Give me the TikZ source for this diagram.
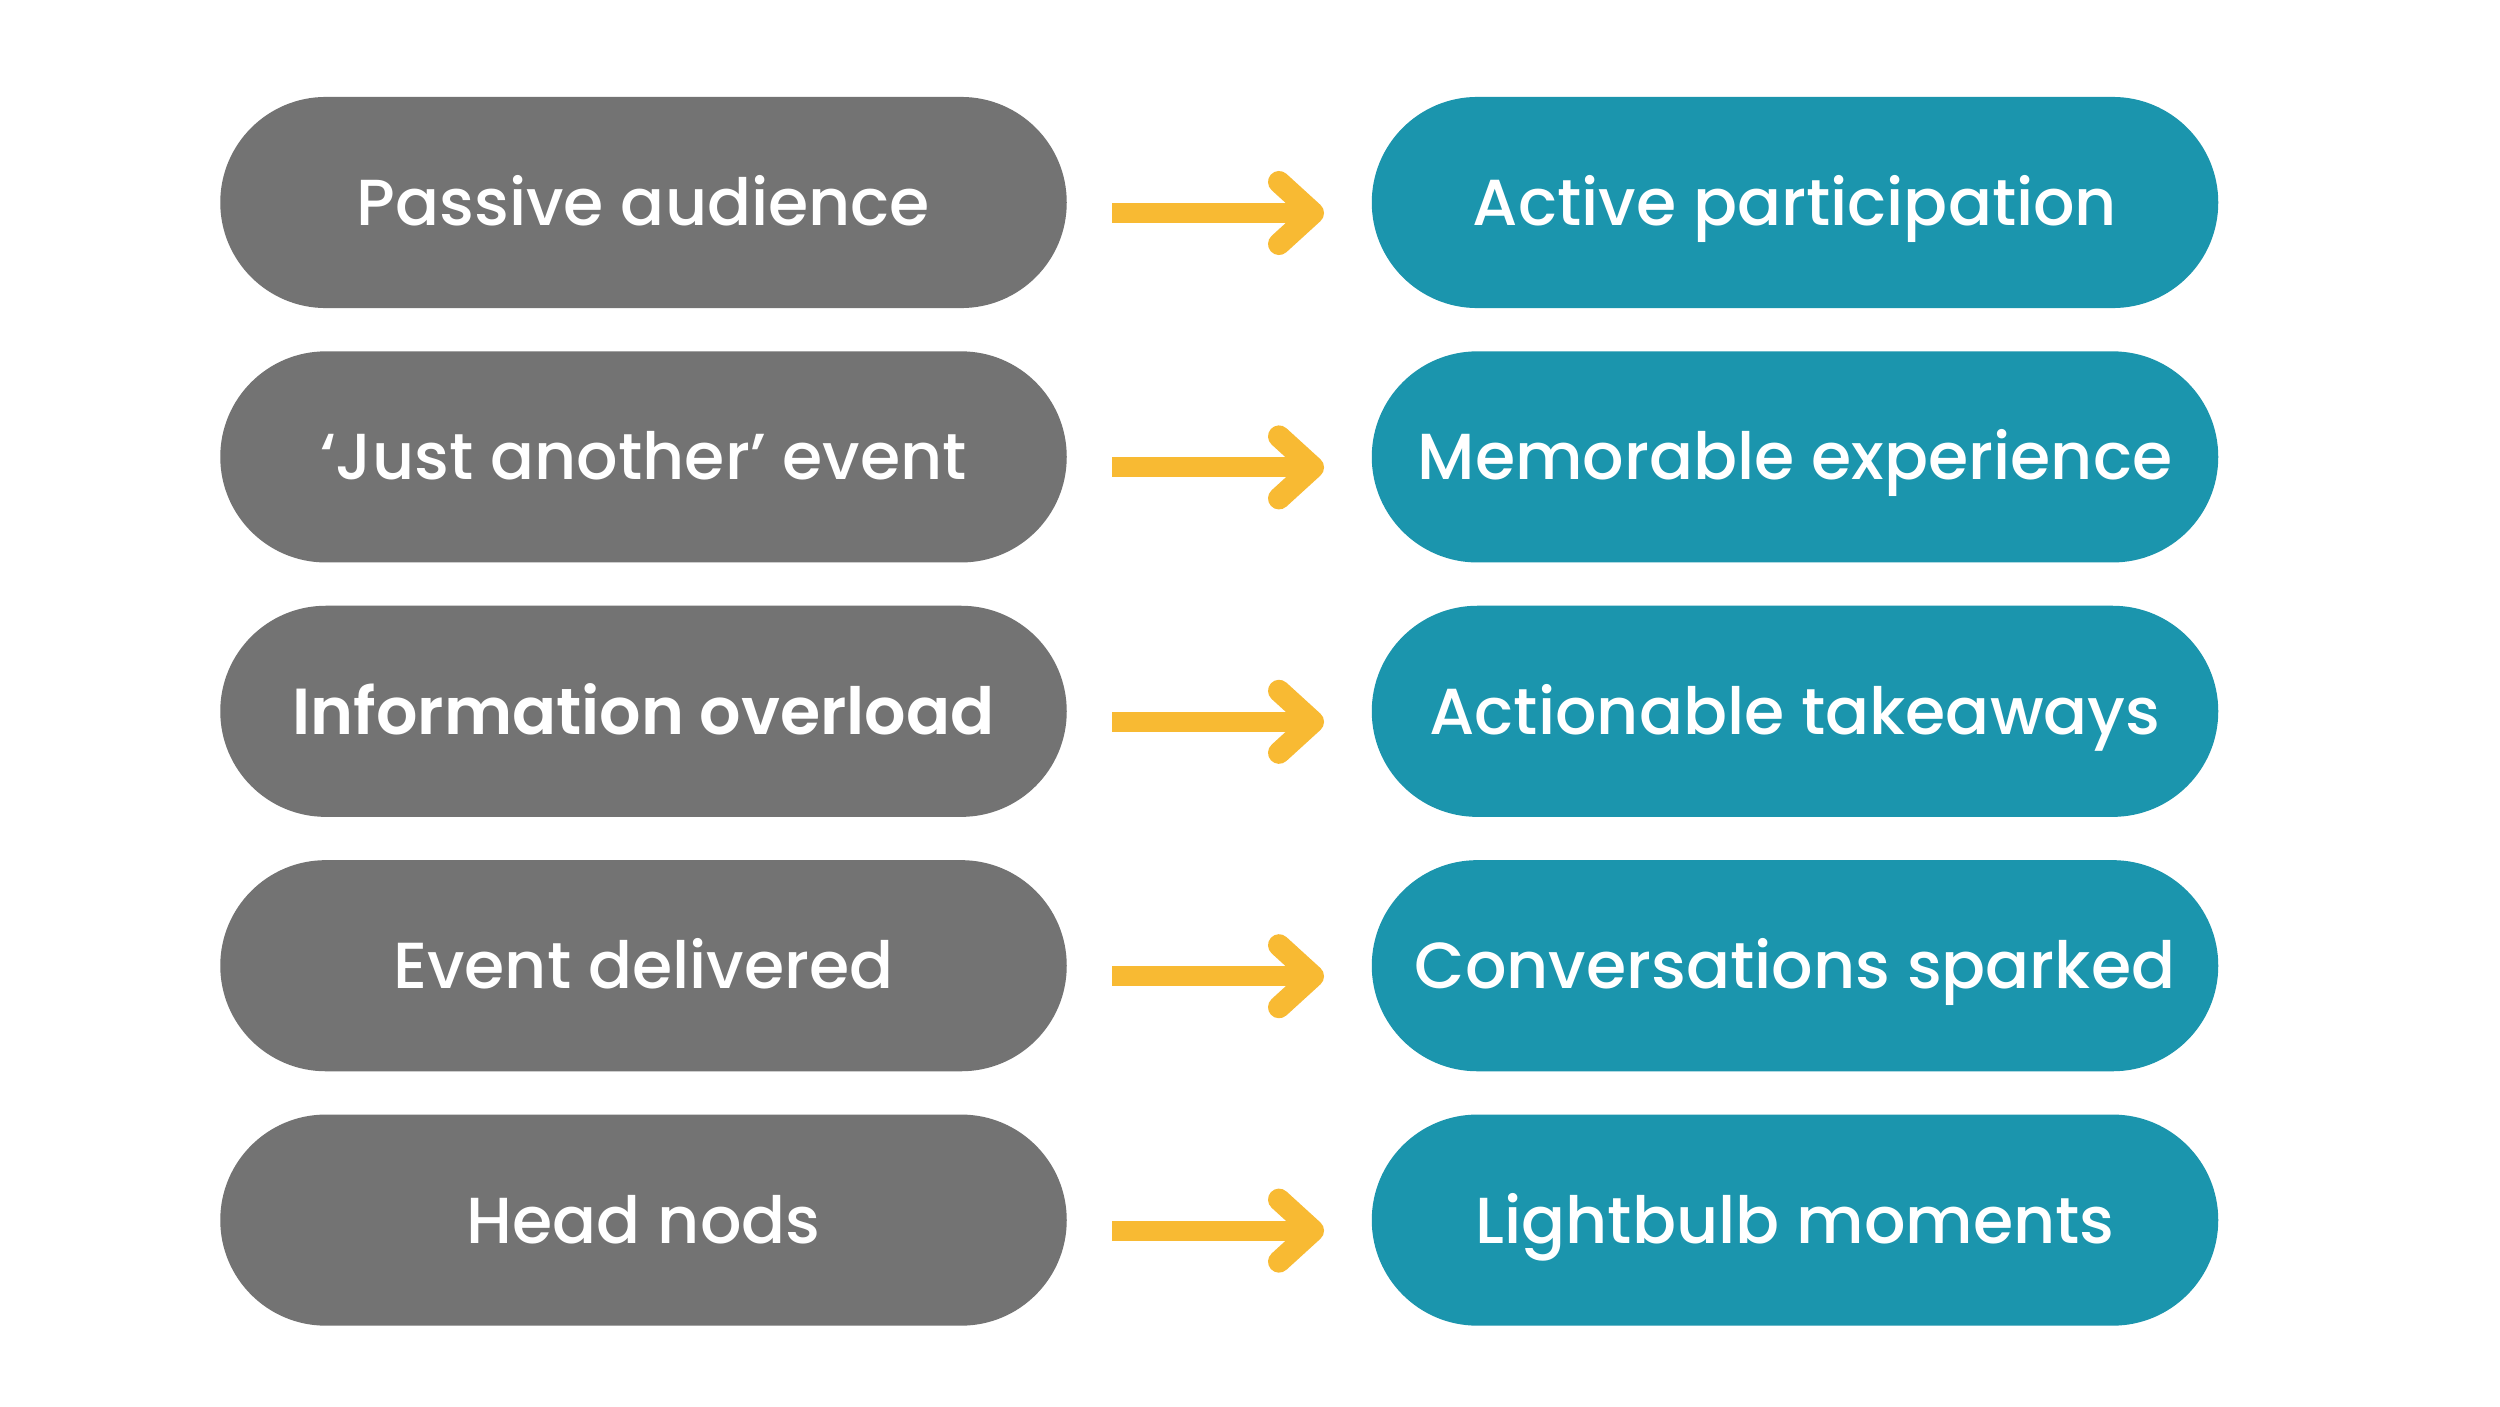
\documentclass[tikz,border=0pt]{standalone}
\usepackage{fontspec}
\setmainfont{Poppins Medium}[BoldFont={Poppins SemiBold}]
\usetikzlibrary{arrows.meta}
\definecolor{pillgray}{RGB}{115,115,115}
\definecolor{pillteal}{RGB}{27,149,173}
\definecolor{arrowyellow}{RGB}{248,186,51}
\tikzset{
  pill/.style={rounded corners=1.055cm, minimum width=8.46cm, minimum height=2.11cm,
    inner sep=0pt, text height=0.46cm, text depth=0cm, text=white,
    font=\fontsize{18.5}{20}\selectfont, anchor=center},
  oldpill/.style={pill, fill=pillgray},
  newpill/.style={pill, fill=pillteal},
  shiftarrow/.style={draw=arrowyellow, line width=0.2cm, shorten <=0.45cm, shorten >=0.47cm,
    -{Straight Barb[length=0.34cm, width=0.62cm, line width=0.22cm, round]}}
}
\begin{document}
\begin{tikzpicture}[x=0.01cm,y=-0.01cm]
\useasboundingbox (0,0) rectangle (2500,1406);
\fill[white] (0,0) rectangle (2500,1406);
\foreach \i/\l/\r [count=\k from 0] in {
  1/{Passive audience}/{Active participation},
  2/{‘Just another’ event}/{Memorable experience},
  3/{\textbf{Information overload}}/{Actionable takeaways},
  4/{Event delivered}/{Conversations sparked},
  5/{Head nods}/{Lightbulb moments}} {
  \node[oldpill] (L\i) at (643.5, 202.5+254.4*\k) {\l};
  \node[newpill] (R\i) at (1795, 202.5+254.4*\k) {\r};
  \draw[shiftarrow] ([yshift=-0.105cm]L\i.east) -- ([yshift=-0.105cm]R\i.west);
}
\end{tikzpicture}
\end{document}
